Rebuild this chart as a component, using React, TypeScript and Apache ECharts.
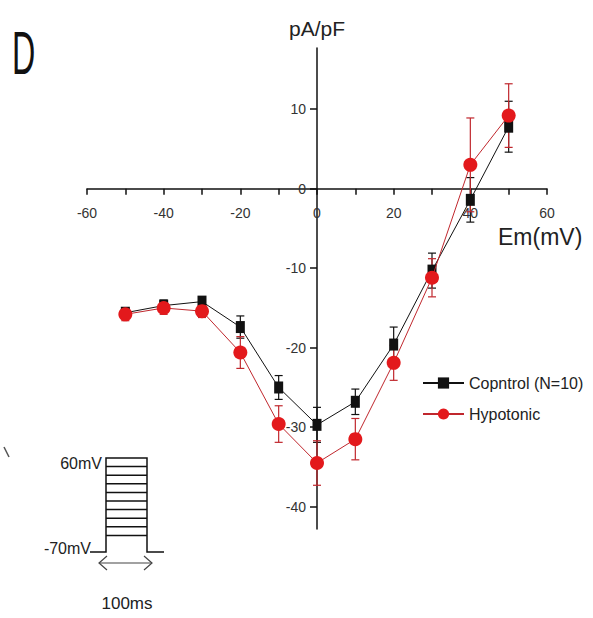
import React, { useEffect, useRef } from "react";
import * as echarts from "echarts";

// Membrane potential steps (mV)
const voltages = [-50, -40, -30, -20, -10, 0, 10, 20, 30, 40, 50];

// Current density (pA/pF), mean and SEM
const controlMean = [-15.6, -14.7, -14.2, -17.4, -25.0, -29.7, -26.8, -19.6, -10.3, -1.4, 7.8];
const controlSem = [0.5, 0.7, 0.6, 1.4, 1.5, 2.2, 1.6, 2.2, 2.2, 2.8, 3.2];
const hypoMean = [-15.8, -15.0, -15.4, -20.6, -29.6, -34.5, -31.5, -21.9, -11.2, 3.0, 9.2];
const hypoSem = [0.8, 0.8, 0.8, 2.0, 2.3, 2.8, 2.6, 2.2, 2.4, 5.9, 4.0];

const seriesNames = ["Copntrol (N=10)", "Hypotonic"];

const xTickLabels = [-60, -40, -20, 0, 20, 40, 60];
const yTickLabels = [-40, -30, -20, -10, 0, 10];

// Axis extents
const X_MIN = -60;
const X_MAX = 60;
const Y_MIN = -42.8;
const Y_MAX = 17.7;

// Stimulation protocol: number of voltage steps shown in the inset
const protocolSteps = 10;

const RED = "#e3191c";
const RED_DARK = "#c0272d";
const FONT = "'Liberation Sans', Arial, sans-serif";

// Plot area
const GRID = { left: 87, top: 48, width: 460, height: 481 };
// Axes cross at the origin: shift them from the grid edges onto zero
const xAxisShift = -(GRID.height * (0 - Y_MIN)) / (Y_MAX - Y_MIN);
const yAxisShift = -(GRID.width * (0 - X_MIN)) / (X_MAX - X_MIN);

function errorBars(name: string, means: number[], sems: number[], color: string) {
  return {
    type: "custom",
    name,
    data: voltages.map((v, i) => [v, means[i], sems[i]]),
    encode: { x: 0, y: 1 },
    z: 2,
    silent: true,
    renderItem: (_params: any, api: any) => {
      const x = api.value(0);
      const m = api.value(1);
      const e = api.value(2);
      const top = api.coord([x, m + e]);
      const bot = api.coord([x, m - e]);
      const w = 4;
      const style = { stroke: color, lineWidth: 1.2 };
      return {
        type: "group",
        children: [
          { type: "line", shape: { x1: top[0], y1: top[1], x2: bot[0], y2: bot[1] }, style },
          { type: "line", shape: { x1: top[0] - w, y1: top[1], x2: top[0] + w, y2: top[1] }, style },
          { type: "line", shape: { x1: bot[0] - w, y1: bot[1], x2: bot[0] + w, y2: bot[1] }, style },
        ],
      };
    },
  };
}

function protocolInset() {
  const left = 106;
  const right = 147;
  const top = 458;
  const base = 552;
  const stepGap = 8.6;
  const lineStyle = { stroke: "#111", lineWidth: 1.5 };
  const children: any[] = [
    {
      type: "polyline",
      shape: { points: [[90, base], [left, base], [left, top], [right, top], [right, base], [164, base]] },
      style: { ...lineStyle, fill: null },
    },
  ];
  for (let k = 1; k < protocolSteps; k++) {
    const y = top + k * stepGap;
    children.push({ type: "line", shape: { x1: left, y1: y, x2: right, y2: y }, style: lineStyle });
  }
  // double-headed duration arrow
  const ay = 563;
  children.push(
    { type: "line", shape: { x1: 99, y1: ay, x2: 152, y2: ay }, style: { stroke: "#444", lineWidth: 1.2 } },
    { type: "polyline", shape: { points: [[107, ay - 7], [99, ay], [107, ay + 7]] }, style: { stroke: "#444", lineWidth: 1.2, fill: null } },
    { type: "polyline", shape: { points: [[144, ay - 7], [152, ay], [144, ay + 7]] }, style: { stroke: "#444", lineWidth: 1.2, fill: null } },
  );
  children.push(
    { type: "text", x: 102, y: 463, style: { text: "60mV", fontSize: 16, fontFamily: FONT, fill: "#222", align: "right", verticalAlign: "middle" } },
    { type: "text", x: 91, y: 548, style: { text: "-70mV", fontSize: 16, fontFamily: FONT, fill: "#222", align: "right", verticalAlign: "middle" } },
    { type: "text", x: 127, y: 603, style: { text: "100ms", fontSize: 17, fontFamily: FONT, fill: "#222", align: "center", verticalAlign: "middle" } },
  );
  return { type: "group", children };
}

export default function App() {
  const ref = useRef<HTMLDivElement>(null);

  useEffect(() => {
    if (!ref.current) return;
    const chart = echarts.init(ref.current, null, { renderer: "svg" });
    chart.setOption({
      animation: false,
      backgroundColor: "#ffffff",
      textStyle: { fontFamily: FONT },
      grid: { ...GRID, containLabel: false },
      legend: {
        data: seriesNames,
        orient: "vertical",
        left: 417,
        top: 370,
        itemWidth: 41,
        itemHeight: 14,
        itemGap: 15,
        textStyle: { fontSize: 16, color: "#222", fontFamily: FONT },
      },
      xAxis: {
        type: "value",
        min: X_MIN,
        max: X_MAX,
        interval: 10,
        position: "bottom",
        offset: xAxisShift,
        axisLine: { onZero: false, lineStyle: { color: "#111", width: 1.5 } },
        axisTick: { length: 6, lineStyle: { color: "#111", width: 1.5 } },
        axisLabel: { customValues: xTickLabels, fontSize: 14, color: "#333", margin: 17 },
        splitLine: { show: false },
      },
      yAxis: {
        type: "value",
        min: Y_MIN,
        max: Y_MAX,
        position: "left",
        offset: yAxisShift,
        name: "pA/pF",
        nameLocation: "end",
        nameGap: 9,
        nameTextStyle: { fontSize: 21, color: "#222", align: "center" },
        axisLine: { onZero: false, lineStyle: { color: "#111", width: 1.5 } },
        axisTick: { customValues: yTickLabels, length: 7, lineStyle: { color: "#111", width: 1.5 } },
        axisLabel: { customValues: yTickLabels, fontSize: 14, color: "#333", margin: 11 },
        splitLine: { show: false },
      },
      series: [
        errorBars("control-sem", controlMean, controlSem, "#111"),
        {
          type: "line",
          name: seriesNames[0],
          data: voltages.map((v, i) => [v, controlMean[i]]),
          symbol: "rect",
          symbolSize: [9, 12],
          itemStyle: { color: "#111" },
          lineStyle: { color: "#111", width: 1 },
          z: 3,
        },
        errorBars("hypotonic-sem", hypoMean, hypoSem, RED_DARK),
        {
          type: "line",
          name: seriesNames[1],
          data: voltages.map((v, i) => [v, hypoMean[i]]),
          symbol: "circle",
          symbolSize: 14,
          itemStyle: { color: RED },
          lineStyle: { color: RED_DARK, width: 1 },
          z: 4,
        },
      ],
      graphic: [
        { type: "text", x: 12, y: 52, scaleX: 0.52, style: { text: "D", fontSize: 62, fontFamily: FONT, fill: "#111", verticalAlign: "middle" } },
        { type: "text", x: 498, y: 237, style: { text: "Em(mV)", fontSize: 23, fontFamily: FONT, fill: "#222", verticalAlign: "middle" } },
        { type: "line", shape: { x1: 4, y1: 447, x2: 9, y2: 457 }, style: { stroke: "#555", lineWidth: 1.5 } },
        protocolInset(),
      ],
    });
    return () => chart.dispose();
  }, []);

  return <div ref={ref} style={{ position: "absolute", left: 0, top: 0, width: 593, height: 618 }} />;
}
